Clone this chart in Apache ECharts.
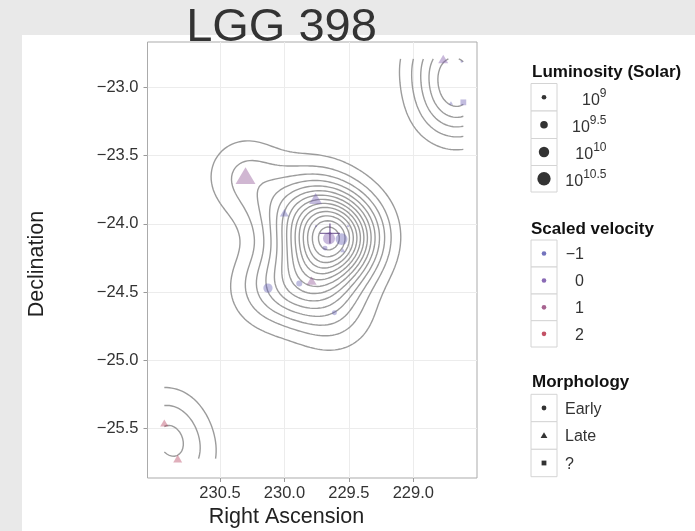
<!DOCTYPE html>
<html>
<head>
<meta charset="utf-8">
<script src="https://cdn.jsdelivr.net/npm/echarts@6/dist/echarts.min.js"></script>
<style>
  html, body { margin: 0; padding: 0; background: #e9e9e9; }
  #chart { width: 695px; height: 531px; }
</style>
</head>
<body>
<div id="chart"></div>
<script>
// Members of the galaxy group LGG 398
const ra    = [228.768, 228.625, 228.708, 228.612, 230.302, 229.758, 230.001, 229.654, 229.557, 229.685, 229.548, 230.128, 229.885, 229.789, 229.612, 230.932, 230.828, 229.647, 229.755, 229.507];
const dec   = [-22.792, -22.812, -23.115, -23.110, -23.647, -23.814, -23.919, -24.108, -24.112, -24.178, -24.193, -24.471, -24.437, -24.416, -24.652, -25.459, -25.720, -24.070, -24.017, -24.017];
const logL  = [9.52, 8.55, 8.75, 9.3, 10.85, 9.92, 9.38, 10.27, 10.27, 9.05, 8.85, 9.8, 9.23, 9.52, 9.05, 9.3, 9.38, 8.7, 8.5, 8.5];
const vel   = [0.1, -0.6, -0.8, -0.6, 0.6, -0.4, -0.8, 0.0, -0.9, -0.6, -0.8, -0.9, -0.9, 0.6, -0.9, 1.8, 1.8, 0.0, -0.5, -0.7];
const morph = ['Late', 'Early', 'Late', '?', 'Late', 'Late', 'Late', 'Early', 'Early', 'Early', 'Late', 'Early', 'Early', 'Late', 'Early', 'Late', 'Late', 'Early', 'Early', 'Early'];
// group centre marker
const groupCentre = [229.647, -24.070];

// axis ticks
const raTicks  = [229.0, 229.5, 230.0, 230.5];
const decTicks = [-25.5, -25.0, -24.5, -24.0, -23.5, -23.0];

// legend entries
const lumLegend   = [['9'], ['9.5'], ['10'], ['10.5']];
const lumLegendL  = [9, 9.5, 10, 10.5];
const velLegend   = [-1, 0, 1, 2];
const morphLegend = ['Early', 'Late', '?'];

// plot window
const RA_MIN = 228.506, RA_MAX = 231.0625;
const DEC_MIN = -25.862, DEC_MAX = -22.668;

// kernel density settings (Gaussian sd in degrees, contour spacing in kernel-peak units)
const BW_RA = 0.217, BW_DEC = 0.205, LEVEL_STEP = 0.484, GRID_N = 120;

const FONT = '"Liberation Sans", Arial, Helvetica, sans-serif';

// colour ramp for scaled velocity
const velStops = [-1, 0, 1, 2];
const velColours = [[91, 91, 178], [118, 80, 168], [152, 72, 124], [184, 50, 74]];
function velColour(v, a) {
  let k = 0;
  while (k < velStops.length - 2 && v > velStops[k + 1]) k++;
  const t = Math.min(1, Math.max(0, (v - velStops[k]) / (velStops[k + 1] - velStops[k])));
  const c0 = velColours[k], c1 = velColours[k + 1];
  const c = c0.map((x, i) => Math.round(x + (c1[i] - x) * t));
  return 'rgba(' + c[0] + ',' + c[1] + ',' + c[2] + ',' + a + ')';
}
function diam(L) { return Math.max(2.2, 4.7 + 5.73 * (L - 9)); }

// ---- 2D kernel density on a regular grid over the data range ----
function kde() {
  const x0 = Math.min(...ra), x1 = Math.max(...ra);
  const y0 = Math.min(...dec), y1 = Math.max(...dec);
  const gx = [], gy = [], z = [];
  for (let i = 0; i < GRID_N; i++) {
    gx.push(x0 + (x1 - x0) * i / (GRID_N - 1));
    gy.push(y0 + (y1 - y0) * i / (GRID_N - 1));
  }
  for (let i = 0; i < GRID_N; i++) {
    const col = new Float64Array(GRID_N);
    for (let j = 0; j < GRID_N; j++) {
      let s = 0;
      for (let k = 0; k < ra.length; k++) {
        const u = (gx[i] - ra[k]) / BW_RA, v = (gy[j] - dec[k]) / BW_DEC;
        s += Math.exp(-0.5 * (u * u + v * v));
      }
      col[j] = s;
    }
    z.push(col);
  }
  return { gx, gy, z };
}

// ---- marching squares, stitched into polylines ----
function traceContours(gx, gy, z, level) {
  const ny = gy.length;
  const pos = new Map(), adj = new Map();
  const hKey = (i, j) => (i * ny + j) * 2;
  const vKey = (i, j) => (i * ny + j) * 2 + 1;
  function cut(key, i0, j0, i1, j1) {
    if (!pos.has(key)) {
      const a = z[i0][j0], b = z[i1][j1];
      const t = (level - a) / (b - a);
      pos.set(key, [gx[i0] + (gx[i1] - gx[i0]) * t, gy[j0] + (gy[j1] - gy[j0]) * t]);
    }
    return key;
  }
  function link(a, b) {
    if (!adj.has(a)) adj.set(a, []);
    if (!adj.has(b)) adj.set(b, []);
    adj.get(a).push(b); adj.get(b).push(a);
  }
  for (let i = 0; i < gx.length - 1; i++) {
    for (let j = 0; j < ny - 1; j++) {
      const a = z[i][j] > level, b = z[i + 1][j] > level, c = z[i + 1][j + 1] > level, d = z[i][j + 1] > level;
      const B = a !== b ? cut(hKey(i, j), i, j, i + 1, j) : null;
      const R = b !== c ? cut(vKey(i + 1, j), i + 1, j, i + 1, j + 1) : null;
      const T = d !== c ? cut(hKey(i, j + 1), i, j + 1, i + 1, j + 1) : null;
      const L = a !== d ? cut(vKey(i, j), i, j, i, j + 1) : null;
      const list = [B, R, T, L].filter(e => e !== null);
      if (list.length === 2) link(list[0], list[1]);
      else if (list.length === 4) {
        const centre = (z[i][j] + z[i + 1][j] + z[i + 1][j + 1] + z[i][j + 1]) / 4 > level;
        if (a) { if (centre) { link(B, R); link(T, L); } else { link(B, L); link(R, T); } }
        else   { if (centre) { link(B, L); link(R, T); } else { link(B, R); link(T, L); } }
      }
    }
  }
  const used = new Set(), lines = [];
  function walk(start) {
    const path = [start]; used.add(start);
    let cur = start;
    for (;;) {
      const nb = adj.get(cur).filter(k => !used.has(k));
      if (!nb.length) {
        if (path.length > 2 && adj.get(cur).includes(start)) path.push(start);
        break;
      }
      cur = nb[0]; used.add(cur); path.push(cur);
    }
    return path.map(k => pos.get(k));
  }
  for (const [k, v] of adj) if (v.length === 1 && !used.has(k)) lines.push(walk(k));
  for (const k of adj.keys()) if (!used.has(k)) lines.push(walk(k));
  return lines;
}

const dens = kde();
let zmax = 0;
dens.z.forEach(col => col.forEach(v => { if (v > zmax) zmax = v; }));
const contourData = [];
for (let lv = LEVEL_STEP; lv < zmax; lv += LEVEL_STEP) {
  traceContours(dens.gx, dens.gy, dens.z, lv).forEach(p => { if (p.length > 1) contourData.push({ coords: p }); });
}

// ---- scatter series by morphology ----
const shapeOf = { Early: 'circle', Late: 'triangle', '?': 'rect' };
function sizeFor(m, d) {
  if (m === 'Late') return [d * 1.3, d * 1.1];
  if (m === '?') return d * 0.9;
  return d;
}
const pointSeries = ['Early', 'Late', '?'].map(m => ({
  type: 'scatter',
  name: m,
  symbol: shapeOf[m],
  z: 3,
  silent: true,
  data: ra.map((x, i) => i).filter(i => morph[i] === m).map(i => ({
    value: [ra[i], dec[i]],
    symbolSize: sizeFor(m, diam(logL[i])),
    itemStyle: { color: velColour(vel[i], 0.5) }
  }))
}));

const fmt = v => v.toFixed(1).replace('-', '\u2212');

// ---- legends ----
const measureCtx = document.createElement('canvas').getContext('2d');
function textWidth(t, font) { measureCtx.font = font; return measureCtx.measureText(t).width; }
const graphics = [];
graphics.push({ type: 'rect', z: -10, shape: { x: 22, y: 35, width: 695 - 22, height: 531 - 35 }, style: { fill: '#ffffff' }, silent: true });
graphics.push({ type: 'text', z: 50, style: { text: 'LGG 398', x: 281.5, y: 28, align: 'center', verticalAlign: 'middle', font: '47px ' + FONT, fill: '#333333' } });
graphics.push({ type: 'text', style: { text: 'Right Ascension', x: 286.5, y: 517.5, align: 'center', verticalAlign: 'middle', font: '21.5px ' + FONT, fill: '#222222' } });
graphics.push({ type: 'text', rotation: Math.PI / 2, x: 37.5, y: 264, style: { text: 'Declination', x: 0, y: 0, align: 'center', verticalAlign: 'middle', font: '21.5px ' + FONT, fill: '#222222' } });

function legendTitle(t, x, y) {
  graphics.push({ type: 'text', style: { text: t, x: x, y: y, align: 'left', verticalAlign: 'middle', font: 'bold 17px ' + FONT, fill: '#111111' } });
}
function keyBox(y0, y1) {
  graphics.push({ type: 'rect', shape: { x: 531, y: y0, width: 26, height: y1 - y0 }, style: { fill: '#ffffff', stroke: '#d4d4d4', lineWidth: 1 } });
}
// Luminosity
legendTitle('Luminosity (Solar)', 532, 72.5);
const lumRows = [83.5, 111, 138.5, 165.5, 192];
lumLegendL.forEach((L, k) => {
  keyBox(lumRows[k], lumRows[k + 1]);
  const cy = (lumRows[k] + lumRows[k + 1]) / 2;
  graphics.push({ type: 'circle', shape: { cx: 544, cy: cy, r: diam(L) / 2 }, style: { fill: '#333333' } });
  const supFont = '12px ' + FONT, baseFont = '16px ' + FONT;
  const sw = textWidth(lumLegend[k][0], supFont);
  const right = 606.5;
  graphics.push({ type: 'text', style: { text: '10', x: right - sw, y: cy + 3, align: 'right', verticalAlign: 'middle', font: baseFont, fill: '#333333' } });
  graphics.push({ type: 'text', style: { text: lumLegend[k][0], x: right - sw, y: cy - 4, align: 'left', verticalAlign: 'middle', font: supFont, fill: '#333333' } });
});
// Scaled velocity
legendTitle('Scaled velocity', 531, 229);
const velRows = [240, 267, 294, 320.7, 347];
velLegend.forEach((v, k) => {
  keyBox(velRows[k], velRows[k + 1]);
  const cy = (velRows[k] + velRows[k + 1]) / 2;
  graphics.push({ type: 'circle', shape: { cx: 544, cy: cy, r: 2.3 }, style: { fill: velColour(v, 0.85) } });
  graphics.push({ type: 'text', style: { text: String(v).replace('-', '\u2212'), x: 584, y: cy + 1.5, align: 'right', verticalAlign: 'middle', font: '16px ' + FONT, fill: '#333333' } });
});
// Morphology
legendTitle('Morphology', 532, 382.5);
const morphRows = [394.3, 421.7, 449.3, 476.7];
morphLegend.forEach((m, k) => {
  keyBox(morphRows[k], morphRows[k + 1]);
  const cy = (morphRows[k] + morphRows[k + 1]) / 2;
  if (m === 'Early') graphics.push({ type: 'circle', shape: { cx: 544, cy: cy, r: 2.4 }, style: { fill: '#333333' } });
  else if (m === 'Late') graphics.push({ type: 'polygon', shape: { points: [[544, cy - 3.2], [547.4, cy + 2.6], [540.6, cy + 2.6]] }, style: { fill: '#333333' } });
  else graphics.push({ type: 'rect', shape: { x: 541.6, y: cy - 2.4, width: 4.8, height: 4.8 }, style: { fill: '#333333' } });
  graphics.push({ type: 'text', style: { text: m, x: 565, y: cy + 1.5, align: 'left', verticalAlign: 'middle', font: '16px ' + FONT, fill: '#333333' } });
});

const chart = echarts.init(document.getElementById('chart'), null, { renderer: 'canvas' });
chart.setOption({
  animation: false,
  backgroundColor: '#e9e9e9',
  grid: { left: 147.5, top: 42, right: 218, bottom: 53, show: true, backgroundColor: '#ffffff', borderColor: '#ababab', borderWidth: 1 },
  xAxis: {
    type: 'value', inverse: true, min: RA_MIN, max: RA_MAX,
    axisLine: { show: false },
    axisTick: { show: true, length: 4, lineStyle: { color: '#9a9a9a' }, customValues: raTicks },
    axisLabel: { customValues: raTicks, formatter: fmt, margin: 7, fontSize: 16.5, fontFamily: FONT, color: '#333333' },
    splitLine: { show: true, lineStyle: { color: '#ececec', width: 1 } }
  },
  yAxis: {
    type: 'value', min: DEC_MIN, max: DEC_MAX,
    axisLine: { show: false },
    axisTick: { show: true, length: 4, lineStyle: { color: '#9a9a9a' }, customValues: decTicks },
    axisLabel: { customValues: decTicks, formatter: fmt, margin: 9, fontSize: 16.5, fontFamily: FONT, color: '#333333' },
    splitLine: { show: true, lineStyle: { color: '#ececec', width: 1 } }
  },
  graphic: graphics,
  series: [
    {
      type: 'lines', coordinateSystem: 'cartesian2d', polyline: true, silent: true, z: 2,
      data: contourData,
      lineStyle: { color: '#9c9c9c', width: 1.4, opacity: 1 }
    },
    ...pointSeries,
    {
      type: 'scatter', silent: true, z: 4,
      symbol: 'path://M0,9.3H20V10.7H0Z M9.3,0H10.7V20H9.3Z',
      symbolSize: 20,
      data: [groupCentre],
      itemStyle: { color: 'rgba(80,50,120,0.85)' }
    }
  ]
});
</script>
</body>
</html>
